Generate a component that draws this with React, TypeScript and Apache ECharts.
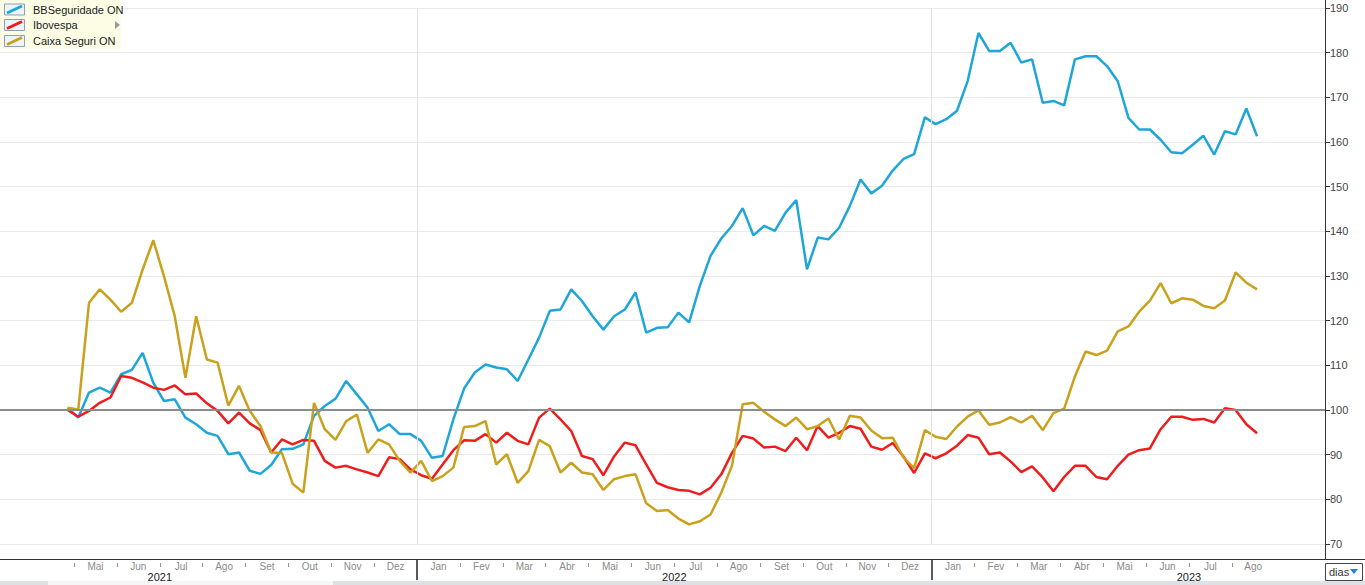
import React, { useEffect, useRef } from "react";
import * as echarts from "echarts";

// Sample dates, in months since 1 May 2021 (evenly spaced trading-week samples)
const X_START = -0.15;
const X_END = 27.59;

const bbSeguridade = [
  100.5, 98.3, 103.9, 105, 103.9, 108, 109, 112.8, 106.1, 102,
  102.4, 98.3, 96.8, 94.9, 94.2, 90.1, 90.5, 86.4, 85.7, 87.7,
  91.2, 91.3, 92.3, 98.7, 100.9, 102.5, 106.5, 103.5, 100.5, 95.3,
  96.8, 94.6, 94.6, 93.1, 89.3, 89.7, 97.9, 104.8, 108.4, 110.2,
  109.5, 109.1, 106.5, 111.3, 116.2, 122.2, 122.5, 127, 124.4, 121,
  118, 121, 122.5, 126.3, 117.3, 118.4, 118.5, 121.8, 119.6, 127.8,
  134.5, 138.4, 141.2, 145.2, 139.1, 141.2, 140.1, 144.2, 147, 131.5,
  138.6, 138.2, 140.8, 145.7, 151.6, 148.5, 150.2, 153.6, 156.2, 157.3,
  165.5, 164, 165.1, 167, 173.7, 184.4, 180.4, 180.4, 182.2, 177.8,
  178.5, 168.8, 169.2, 168.2, 178.5, 179.2, 179.2, 177, 173.6, 165.4,
  162.8, 162.8, 160.5, 157.7, 157.5, 159.4, 161.4, 157.2, 162.4, 161.7,
  167.5, 161.3,
];

const ibovespa = [
  100, 98.5, 99.8, 101.6, 102.8, 107.6, 107.2, 106.2, 105, 104.5,
  105.5, 103.5, 103.7, 101.5, 99.8, 97, 99.4, 97, 95.5, 90.5,
  93.4, 92.3, 93.3, 93.1, 88.6, 87.1, 87.5, 86.7, 86, 85.2,
  89.4, 89, 86.7, 85.4, 84.6, 87.8, 91, 93.2, 93.1, 94.6,
  92.7, 94.9, 93.1, 92.3, 98.3, 100.3, 97.9, 95.3, 89.7, 89,
  85.4, 89.6, 92.7, 92.1, 87.8, 83.7, 82.7, 82.1, 81.9, 81.1,
  82.6, 85.6, 90.4, 94.2, 93.6, 91.6, 91.8, 90.8, 93.8, 91,
  96.4, 93.8, 94.9, 96.4, 95.8, 91.8, 91.1, 92.6, 89.6, 85.9,
  90.3, 89.2, 90.3, 92, 94.4, 93.8, 90.1, 90.5, 88.5, 86.1,
  87.4, 84.9, 81.8, 85, 87.5, 87.5, 85, 84.5, 87.5, 90,
  91, 91.4, 95.7, 98.5, 98.5, 97.8, 98, 97.2, 100.4, 100,
  96.8, 94.8,
];

const caixaSeguri = [
  100.5, 100.1, 124, 127, 124.7, 122, 124, 131.4, 138, 129.9,
  121, 107.2, 121, 111.3, 110.6, 101, 105.4, 99.8, 96.4, 90.5,
  90.4, 83.5, 81.5, 101.6, 95.7, 93.3, 97.5, 99, 90.4, 93.4,
  92.3, 88.6, 86, 88.6, 84.1, 85.2, 87.1, 96.2, 96.4, 97.5,
  87.8, 90.1, 83.7, 86.3, 93.3, 91.9, 86, 88.2, 86, 85.6,
  82.1, 84.5, 85.2, 85.6, 79.1, 77.4, 77.6, 75.7, 74.4, 75.1,
  76.6, 81.5, 87.5, 101.3, 101.6, 99.6, 97.9, 96.4, 98.3, 95.7,
  96.4, 98.1, 93.4, 98.7, 98.3, 95.4, 93.7, 93.8, 89.4, 87,
  95.5, 94, 93.5, 96.3, 98.5, 99.9, 96.7, 97.2, 98.4, 97.2,
  98.7, 95.5, 99.3, 100.3, 107.5, 113.1, 112.3, 113.3, 117.6, 118.7,
  122, 124.5, 128.4, 123.9, 125, 124.7, 123.3, 122.8, 124.5, 130.8,
  128.5, 127,
];

const seriesNames = ["BBSeguridade ON", "Ibovespa", "Caixa Seguri ON"];
const seriesColors = ["#1ea6d9", "#ee1c1c", "#c9a11c"];

// Month labels from May 2021 to Aug 2023 (one per month, centred in the month)
const monthLabels = [
  "Mai", "Jun", "Jul", "Ago", "Set", "Out", "Nov", "Dez",
  "Jan", "Fev", "Mar", "Abr", "Mai", "Jun", "Jul", "Ago", "Set", "Out", "Nov", "Dez",
  "Jan", "Fev", "Mar", "Abr", "Mai", "Jun", "Jul", "Ago",
];
const yearLabels = ["2021", "2022", "2023"];
const yearLabelAt = [2, 14, 26];
const yearStarts = [8, 20];

const FONT = "'Liberation Sans', Arial, sans-serif";

export default function App() {
  const ref = useRef<HTMLDivElement>(null);

  useEffect(() => {
    if (!ref.current) return;
    const chart = echarts.init(ref.current, undefined, { renderer: "svg" });

    const n = bbSeguridade.length;
    const xs = bbSeguridade.map((_, i) => X_START + (i * (X_END - X_START)) / (n - 1));
    const toData = (vals: number[]) => vals.map((v, i) => [xs[i], v]);

    const X_MIN = -74 / 42.88;
    const X_MAX = 1251 / 42.88;

    const monthTickValues = monthLabels
      .map((_, i) => i)
      .filter((i) => yearStarts.indexOf(i) < 0);

    const baseX = {
      type: "value",
      min: X_MIN,
      max: X_MAX,
      gridIndex: 0,
      position: "bottom",
      splitLine: { show: false },
      axisLine: { show: false, onZero: false },
    };

    const legendRows = [9.5, 25, 41];
    const graphic: any[] = [
      { type: "rect", z: 100, silent: true, shape: { x: 0, y: 0, width: 121, height: 49 }, style: { fill: "#fdfde6" } },
    ];
    seriesNames.forEach((name, k) => {
      const c = legendRows[k];
      graphic.push({
        type: "rect",
        z: 101,
        silent: true,
        shape: { x: 4.5, y: c - 5.5, width: 20, height: 11 },
        style: { fill: "#eef4fa", stroke: "#8aa0b5", lineWidth: 1 },
      });
      graphic.push({
        type: "line",
        z: 102,
        silent: true,
        shape: { x1: 7, y1: c + 3.5, x2: 22, y2: c - 3.5 },
        style: { stroke: seriesColors[k], lineWidth: 3 },
      });
      graphic.push({
        type: "text",
        z: 102,
        silent: true,
        style: { text: name, x: 33, y: c, fill: "#1a1a1a", fontSize: 11, fontFamily: FONT, verticalAlign: "middle" },
      });
    });
    graphic.push(
      { type: "polygon", z: 102, silent: true, shape: { points: [[115, 21], [120, 25], [115, 29]] }, style: { fill: "#9a9a9a" } },
      { type: "line", z: 100, silent: true, shape: { x1: 0, y1: 559.5, x2: 1365, y2: 559.5 }, style: { stroke: "#333", lineWidth: 1 } },
      { type: "line", z: 100, silent: true, shape: { x1: 1325.5, y1: 0, x2: 1325.5, y2: 559 }, style: { stroke: "#333", lineWidth: 1 } },
      { type: "rect", z: 100, silent: true, shape: { x: 1325.5, y: 563.5, width: 37, height: 17 }, style: { fill: "#fff", stroke: "#444", lineWidth: 1 } },
      { type: "text", z: 101, silent: true, style: { text: "dias", x: 1329, y: 572, fill: "#333", fontSize: 11, fontFamily: FONT, verticalAlign: "middle" } },
      { type: "polygon", z: 101, silent: true, shape: { points: [[1350, 569], [1358, 569], [1354, 574]] }, style: { fill: "#2a7de1" } },
      { type: "rect", z: 100, silent: true, shape: { x: 0, y: 581, width: 1365, height: 4 }, style: { fill: "#dde1e6" } },
      { type: "rect", z: 101, silent: true, shape: { x: 48, y: 581, width: 285, height: 4 }, style: { fill: "#f6f6f6" } }
    );

    chart.setOption({
      animation: false,
      backgroundColor: "#ffffff",
      textStyle: { fontFamily: FONT },
      grid: { left: 0, right: 40, top: 8, bottom: 41, containLabel: false },
      xAxis: [
        {
          ...baseX,
          offset: 15,
          axisTick: { show: false },
          axisLabel: {
            customValues: monthLabels.map((_, i) => i + 0.5),
            formatter: (v: number) => monthLabels[Math.floor(v)] ?? "",
            margin: 2,
            fontSize: 10,
            color: "#8a8a8a",
          },
        },
        {
          ...baseX,
          offset: 19,
          axisTick: { show: true, customValues: monthTickValues, length: 4, lineStyle: { color: "#9a9a9a" } },
          axisLabel: { show: false },
        },
        {
          ...baseX,
          offset: 15,
          axisTick: { show: true, customValues: yearStarts, length: 21, lineStyle: { color: "#222", width: 1.5 } },
          axisLabel: {
            customValues: yearLabelAt,
            formatter: (v: number) => {
              const idx = yearLabelAt.findIndex((p) => Math.abs(p - v) < 0.01);
              return idx >= 0 ? yearLabels[idx] : "";
            },
            margin: 12,
            fontSize: 11,
            color: "#222",
          },
        },
      ],
      yAxis: {
        type: "value",
        position: "right",
        min: 70,
        max: 190,
        interval: 10,
        axisLine: { show: false, onZero: false },
        axisTick: { show: true, length: 5, lineStyle: { color: "#333" } },
        axisLabel: { margin: 5, fontSize: 11, color: "#444" },
        splitLine: { show: true, lineStyle: { color: "#e9e9e9", width: 1 } },
      },
      series: [
        {
          type: "line",
          name: "ref",
          data: [],
          silent: true,
          markLine: {
            silent: true,
            symbol: "none",
            label: { show: false },
            data: [
              { xAxis: yearStarts[0], lineStyle: { color: "#e3e3e3", width: 1, type: "solid" } },
              { xAxis: yearStarts[1], lineStyle: { color: "#e3e3e3", width: 1, type: "solid" } },
              { yAxis: 100, lineStyle: { color: "#8c8c8c", width: 2, type: "solid" } },
            ],
          },
        },
        ...[bbSeguridade, ibovespa, caixaSeguri].map((vals, k) => ({
          type: "line",
          name: seriesNames[k],
          data: toData(vals),
          showSymbol: false,
          symbol: "none",
          silent: true,
          lineStyle: { color: seriesColors[k], width: 2.5 },
          itemStyle: { color: seriesColors[k] },
        })),
      ],
      graphic,
    });

    return () => chart.dispose();
  }, []);

  return (
    <div
      ref={ref}
      style={{ position: "absolute", left: 0, top: 0, width: 1365, height: 585, background: "#fff" }}
    />
  );
}
